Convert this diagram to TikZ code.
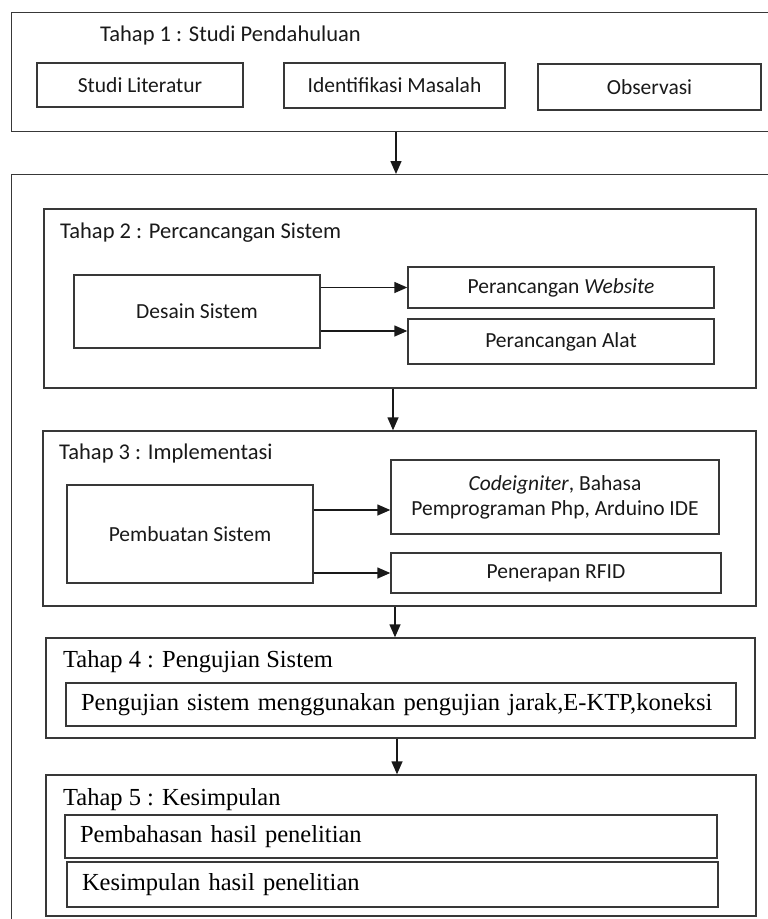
\documentclass[tikz,border=0pt]{standalone}
\usepackage{fontspec}
\setmainfont{Carlito}
\newfontfamily\serifTNR{Liberation Serif}
\usetikzlibrary{arrows.meta,calc}
\begin{document}
\begin{tikzpicture}[x=1pt,y=-1pt,
  frame/.style={draw=black!78, line width=1.4pt},
  box/.style={frame, inner sep=0pt, font=\fontsize{21.5}{25}\selectfont, align=center, text=black!90},
  title/.style={anchor=west, inner sep=0pt, font=\fontsize{22.5}{27}\selectfont, text=black!90},
  ttitle/.style={anchor=west, inner sep=0pt, font=\serifTNR\fontsize{24.5}{29}\selectfont},
  tbox/.style={frame, inner xsep=15pt, inner ysep=0pt, align=left, font=\serifTNR\fontsize{24.5}{29}\selectfont},
  arr/.style={draw=black!90, line width=1.4pt, -{Triangle[length=13pt,width=11pt]}}
]
\useasboundingbox (0,0) rectangle (768,919);
\clip (0,0) rectangle (768,919);

% Tahap 1
\node[frame, inner sep=0pt, minimum width=800, minimum height=119, anchor=north west] (t1) at (11,12) {};
\node[title] (t1t) at (100,35) {Tahap 1 : Studi Pendahuluan};
\node[box, minimum width=206, minimum height=44] (sl) at (140,85) {Studi Literatur};
\node[box, minimum width=221, minimum height=45] (im) at (394.5,85.5) {Identifikasi Masalah};
\node[box, minimum width=223, minimum height=46] (ob) at (649.5,87) {Observasi};

% big outer frame
\node[frame, inner sep=0pt, minimum width=800, minimum height=800, anchor=north west] (big) at (11,174) {};

% Tahap 2
\node[frame, inner sep=0pt, minimum width=712, minimum height=179] (t2) at (400,298.5) {};
\node[title] (t2t) at (60,233) {Tahap 2 : Percancangan Sistem};
\node[box, minimum width=246, minimum height=73] (ds) at (197,311.5) {Desain Sistem};
\node[box, minimum width=306, minimum height=41] (pw) at (561,287.5) {Perancangan \textit{Website}};
\node[box, minimum width=306, minimum height=45] (pa) at (561,341.5) {Perancangan Alat};

% Tahap 3
\node[frame, inner sep=0pt, minimum width=713, minimum height=175] (t3) at (399.5,518.5) {};
\node[title] (t3t) at (59,453) {Tahap 3 : Implementasi};
\node[box, minimum width=246, minimum height=98] (ps) at (190,534) {Pembuatan Sistem};
\node[box, minimum width=328, minimum height=74] (cg) at (555,497) {\textit{Codeigniter}, Bahasa\\Pemprograman Php, Arduino IDE};
\node[box, minimum width=330, minimum height=40] (rf) at (556,573) {Penerapan RFID};

% Tahap 4
\node[frame, inner sep=0pt, minimum width=709, minimum height=100] (t4) at (400.5,688) {};
\node[ttitle] (t4t) at (63,662) {Tahap 4 : Pengujian Sistem};
\node[tbox, text width=640, minimum height=43] (pj) at (401,704.5) {Pengujian sistem menggunakan pengujian jarak,E-KTP,koneksi};

% Tahap 5
\node[frame, inner sep=0pt, minimum width=710, minimum height=141] (t5) at (401,845.5) {};
\node[ttitle] (t5t) at (63,800) {Tahap 5 : Kesimpulan};
\node[tbox, text width=622, minimum height=43] (ph) at (391,836.5) {Pembahasan hasil penelitian};
\node[tbox, text width=621, minimum height=45] (kh) at (392.5,884.5) {Kesimpulan hasil penelitian};

% arrow helper coordinates
\coordinate (xa) at (396,0);
\coordinate (xb) at (393,0);
\coordinate (xc) at (395,0);
\coordinate (xd) at (397,0);
\coordinate (ya) at (0,331);
\coordinate (yb) at (0,510);

% connectors
\draw[arr] (t1.south -| xa) -- (big.north -| xa);
\draw[arr] (t2.south -| xb) -- (t3.north -| xb);
\draw[arr] (t3.south -| xc) -- (t4.north -| xc);
\draw[arr] (t4.south -| xd) -- (t5.north -| xd);

\draw[arr] (ds.east |- pw.west) -- (pw.west);
\draw[arr] (ds.east |- ya) -- (pa.west |- ya);
\draw[arr] (ps.east |- yb) -- (cg.west |- yb);
\draw[arr] (ps.east |- rf.west) -- (rf.west);
\end{tikzpicture}
\end{document}
